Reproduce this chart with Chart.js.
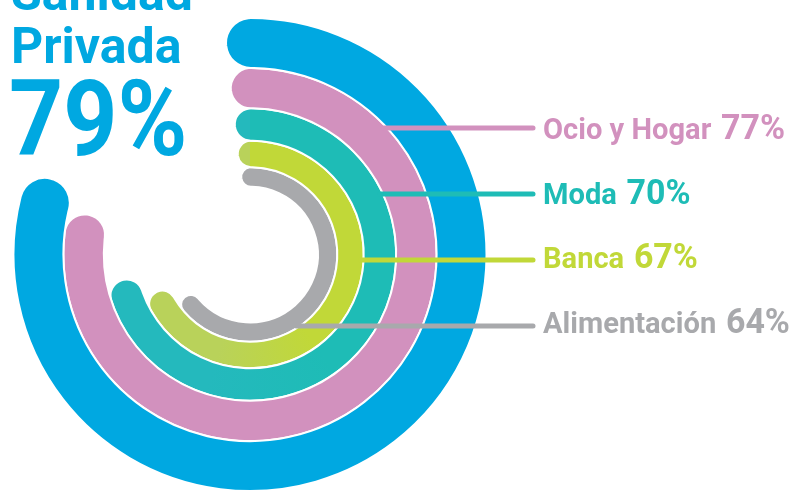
<!DOCTYPE html>
<html>
<head>
<meta charset="utf-8">
<script src="https://cdn.jsdelivr.net/npm/chart.js@4"></script>
<style>
  html, body { margin: 0; padding: 0; background: #ffffff; }
  .base-graf { width: 812px; height: 492px; position: relative; }
</style>
</head>
<body>
<div class="base-graf"><canvas id="graficaSectores"></canvas></div>
<script>
/* DATOS */
const categorias = ['Sanidad Privada', 'Ocio y Hogar', 'Moda', 'Banca', 'Alimentación'];
const porcentajes = [79, 77, 70, 67, 64];
const colores = ['#00a8e1', '#d291be', '#1ebcb6', '#c1d838', '#a8a9ac'];
const coloresFin = ['#00a8e1', '#d291be', '#24b9bd', '#b9d25a', '#a8a9ac'];
const grosores = [50, 40.5, 32.5, 26.5, 19.5];   // peso de cada anillo

/* GEOMETRIA (solo estilo) */
const radioExt = 237;
const radioInt = 68;
const totalPeso = grosores.reduce((a, b) => a + b, 0);

// angulo del remate redondo de cada anillo, para que el arco empiece en las 12
function anguloRemate(i) {
  const escala = (radioExt - radioInt) / totalPeso;
  let ext = radioExt;
  for (let k = 0; k < i; k++) ext -= grosores[k] * escala;
  const medio = grosores[i] * escala / 2;
  return (medio - 1) / (ext - medio) * 180 / Math.PI;
}

// degradado suave hacia el final del arco (se nota en Moda y Banca)
function colorAnillo(i) {
  return function (context) {
    const area = context.chart.chartArea;
    if (!area || colores[i] === coloresFin[i]) return colores[i];
    const cx = (area.left + area.right) / 2;
    const cy = (area.top + area.bottom) / 2;
    const g = context.chart.ctx.createConicGradient(-Math.PI / 2, cx, cy);
    g.addColorStop(0, colores[i]);
    g.addColorStop(0.40, colores[i]);
    g.addColorStop(0.55, coloresFin[i]);
    g.addColorStop(1, coloresFin[i]);
    return g;
  };
}

const grafica = document.getElementById('graficaSectores').getContext('2d');

const datasets = porcentajes.map((valor, i) => {
  const remate = anguloRemate(i);
  return {
    label: categorias[i],
    data: [valor],
    backgroundColor: colorAnillo(i),
    borderColor: '#ffffff',
    borderWidth: 2,
    borderRadius: 200,
    weight: grosores[i],
    rotation: -remate,
    circumference: valor * 3.6 + 2 * remate
  };
});

/* ETIQUETAS Y TITULO */
const etiquetasPlugin = {
  id: 'etiquetas',
  afterDatasetsDraw(chart) {
    const ctx = chart.ctx;
    const lineasY = [128, 194, 260, 326];
    const basesY = [139, 204, 268, 333];
    const xFin = 533;
    const xTexto = 543;

    ctx.save();
    for (let i = 1; i < porcentajes.length; i++) {
      const arco = chart.getDatasetMeta(i).data[0];
      const y = lineasY[i - 1];
      const dy = y - arco.y;
      const r = arco.outerRadius - 1;
      const xIni = arco.x + Math.sqrt(Math.max(r * r - dy * dy, 0)) - 2;

      ctx.strokeStyle = colores[i];
      ctx.lineWidth = 5;
      ctx.lineCap = 'round';
      ctx.beginPath();
      ctx.moveTo(xIni, y);
      ctx.lineTo(xFin, y);
      ctx.stroke();

      // nombre + porcentaje
      const base = basesY[i - 1];
      ctx.fillStyle = colores[i];
      ctx.textBaseline = 'alphabetic';
      ctx.save();
      ctx.translate(xTexto, base);
      ctx.scale(0.97, 1);
      ctx.font = 'bold 30px Roboto';
      ctx.fillText(categorias[i], 0, 0);
      const ancho = ctx.measureText(categorias[i]).width;
      ctx.font = 'bold 35px Roboto';
      ctx.fillText(porcentajes[i] + '%', ancho + 10, 0);
      ctx.restore();
    }

    // titulo arriba a la izquierda
    const partes = categorias[0].split(' ');
    ctx.fillStyle = colores[0];
    ctx.font = 'bold 50px Roboto';
    ctx.fillText(partes[0], 11, 10);
    ctx.fillText(partes[1], 11, 63);
    ctx.save();
    ctx.translate(9, 155);
    ctx.scale(0.9, 1);
    ctx.font = 'bold 105px Roboto';
    ctx.fillText(porcentajes[0] + '%', 0, 0);
    ctx.restore();
    ctx.restore();
  }
};

new Chart(grafica, {
  type: 'doughnut',
  data: {
    labels: categorias,
    datasets: datasets
  },
  options: {
    responsive: true,
    maintainAspectRatio: false,
    animation: false,
    cutout: (radioInt / radioExt * 100) + '%',
    layout: {
      padding: { left: 12, right: 324, top: 17, bottom: 0 }
    },
    plugins: {
      legend: { display: false },
      tooltip: { enabled: false }
    }
  },
  plugins: [etiquetasPlugin]
});
</script>
</body>
</html>
